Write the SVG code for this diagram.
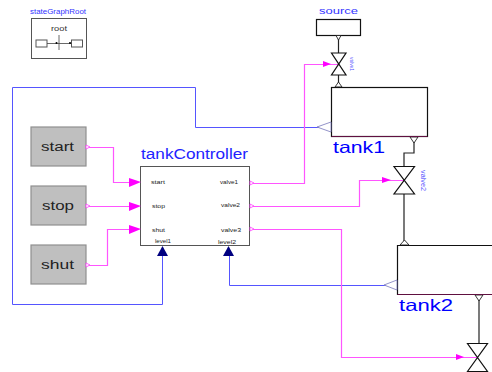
<svg xmlns="http://www.w3.org/2000/svg" width="492" height="372" viewBox="0 0 492 372">
<style>
text{font-family:"Liberation Sans",Arial,sans-serif}
.box{fill:#fff;stroke:#555;stroke-width:1}
.btn{fill:#bfbfbf;stroke:#909090;stroke-width:1.2}
.tank{fill:#fff;stroke:#111;stroke-width:1.2}
.lab{fill:#222;font-size:6px}
.v{fill:#fff;stroke:#111;stroke-width:1.2}
.pink{fill:none;stroke:#ff55ff;stroke-width:1.2}
.blue{fill:none;stroke:#5555ff;stroke-width:1}
.black{fill:none;stroke:#222;stroke-width:1.2}
.ah{fill:#ff00ff}
.nav{fill:#000080}
.po{fill:#fff;stroke:#ff40ff;stroke-width:.8}
.tp{fill:#fff;stroke:#7777bb;stroke-width:.8}
.fp{fill:#fff;stroke:#222;stroke-width:.9}
</style>
<g id="connectors">
<path class="blue" d="M331 127.500H195.500V87.500H12.500V304.500H162.500V256"/>
<path class="blue" d="M397 285.500H229.500V256"/>
<path class="pink" d="M88 147.500H113.500V182.500H130"/>
<path class="pink" d="M88 206.500H130"/>
<path class="pink" d="M88 265.500H107.500V229.500H130"/>
<path class="pink" d="M250 183.500H304.500V64.500H338"/>
<path class="pink" d="M250 206.500H359.500V180.500H404"/>
<path class="pink" d="M250 229.500H341.500V357.500H478"/>
<path class="black" d="M338.500 35V87"/>
<path class="black" d="M414 137V153H404V243"/>
<path class="black" d="M479 294V343"/>
<path class="ah" d="M323 61L331 64L323 67Z"/>
<path class="ah" d="M382 177L391 180L382 183Z"/>
<path class="ah" d="M456 354L464 357L456 360Z"/>
</g>
<g id="stateGraphRoot">
<text x="30" y="14" textLength="56" lengthAdjust="spacingAndGlyphs" style="font-size:7.500px;fill:#3333ff">stateGraphRoot</text>
<rect class="box" x="31.500" y="18.500" width="55" height="40"/>
<text x="51" y="31" textLength="16" lengthAdjust="spacingAndGlyphs" style="font-size:7.500px;fill:#333">root</text>
<rect class="box" x="36" y="40" width="11" height="7"/>
<rect class="box" x="71.500" y="40" width="11" height="7"/>
<path d="M47 43.500H71.500M59 35V50" stroke="#444" stroke-width=".8" fill="none"/>
<circle cx="56.500" cy="43" r="1" fill="#000"/><circle cx="70" cy="43" r="1" fill="#000"/>
</g>
<g id="start"><rect class="btn" x="31" y="127" width="55" height="39"/><text x="41" y="151" textLength="33" lengthAdjust="spacingAndGlyphs" font-size="12.500" fill="#222">start</text><path class="po" d="M86 145L90 147L86 149Z"/></g>
<g id="stop"><rect class="btn" x="31" y="186" width="55" height="39"/><text x="42" y="210" textLength="32" lengthAdjust="spacingAndGlyphs" font-size="12.500" fill="#222">stop</text><path class="po" d="M86 204L90 206L86 208Z"/></g>
<g id="shut"><rect class="btn" x="31" y="245" width="55" height="39"/><text x="41" y="269" textLength="33" lengthAdjust="spacingAndGlyphs" font-size="12.500" fill="#222">shut</text><path class="po" d="M86 263L90 265L86 267Z"/></g>
<g id="tankController">
<text x="141" y="159" textLength="107" lengthAdjust="spacingAndGlyphs" style="font-size:14px;fill:#2222ff">tankController</text>
<rect class="box" x="140.500" y="166.500" width="109" height="79"/>
<text class="lab" x="151" y="184" textLength="14" lengthAdjust="spacingAndGlyphs">start</text>
<text class="lab" x="152" y="208" textLength="13" lengthAdjust="spacingAndGlyphs">stop</text>
<text class="lab" x="152" y="232" textLength="13" lengthAdjust="spacingAndGlyphs">shut</text>
<text class="lab" x="220" y="184" textLength="18" lengthAdjust="spacingAndGlyphs">valve1</text>
<text class="lab" x="221" y="207" textLength="19" lengthAdjust="spacingAndGlyphs">valve2</text>
<text class="lab" x="221" y="232" textLength="20" lengthAdjust="spacingAndGlyphs">valve3</text>
<text class="lab" x="155" y="243" textLength="16" lengthAdjust="spacingAndGlyphs">level1</text>
<text class="lab" x="218" y="244" textLength="18" lengthAdjust="spacingAndGlyphs">level2</text>
<path class="ah" d="M129 178L141 182L129 187Z"/>
<path class="ah" d="M129 202L141 206L129 211Z"/>
<path class="ah" d="M129 225L141 229L129 234Z"/>
<path class="po" d="M250 181L254 183L250 185Z"/>
<path class="po" d="M250 204L254 206L250 208Z"/>
<path class="po" d="M250 227L254 229L250 231Z"/>
<path class="nav" d="M157 256L162.500 246L168 256Z"/>
<path class="nav" d="M223 256L228.500 246L234 256Z"/>
</g>
<g id="source">
<text x="319" y="14" textLength="39" lengthAdjust="spacingAndGlyphs" style="font-size:9.500px;fill:#3333ff">source</text>
<rect class="tank" x="316.500" y="19.500" width="44" height="16"/>
<path class="fp" d="M336 35.500L338.500 40L341 35.500Z"/>
</g>
<g id="valve1">
<path class="v" d="M331.500 53H346L331.500 75H346Z"/>
<text transform="translate(350 57) rotate(90)" textLength="14" lengthAdjust="spacingAndGlyphs" style="font-size:6px;fill:#5555ff">valve1</text>
</g>
<g id="tank1">
<path class="fp" d="M335 87L338.500 82L342 87Z"/>
<rect class="tank" x="331.500" y="87.500" width="96" height="49"/>
<path class="tp" d="M331 122V132L317 127Z"/>
<path class="fp" d="M410 137L414 143L418 137Z"/>
<path d="M331.500 136.500H427.500" stroke="#601040" stroke-width="1"/>
<text x="333" y="153" textLength="52" lengthAdjust="spacingAndGlyphs" style="font-size:16.500px;fill:#0000ff">tank1</text>
</g>
<g id="valve2">
<path class="v" d="M394 166.500H414.500L394 194H414.500Z"/>
<text transform="translate(421 170) rotate(90)" textLength="21" lengthAdjust="spacingAndGlyphs" style="font-size:8px;fill:#5555ff">valve2</text>
</g>
<g id="tank2">
<path class="fp" d="M400 245L404.500 240L409 245Z"/>
<path class="tank" d="M492 245.500H397.500V294.500H492"/>
<path class="tp" d="M397 280V290L384 285Z"/>
<path class="fp" d="M475 295L479 301L483 295Z"/>
<path d="M397.500 294.500H492" stroke="#601040" stroke-width="1"/>
<text x="399" y="311" textLength="54" lengthAdjust="spacingAndGlyphs" style="font-size:16.500px;fill:#0000ff">tank2</text>
</g>
<g id="valve3">
<path class="v" d="M467.500 343.500H487.500L467.500 371.500H487.500Z"/>
</g>
</svg>
